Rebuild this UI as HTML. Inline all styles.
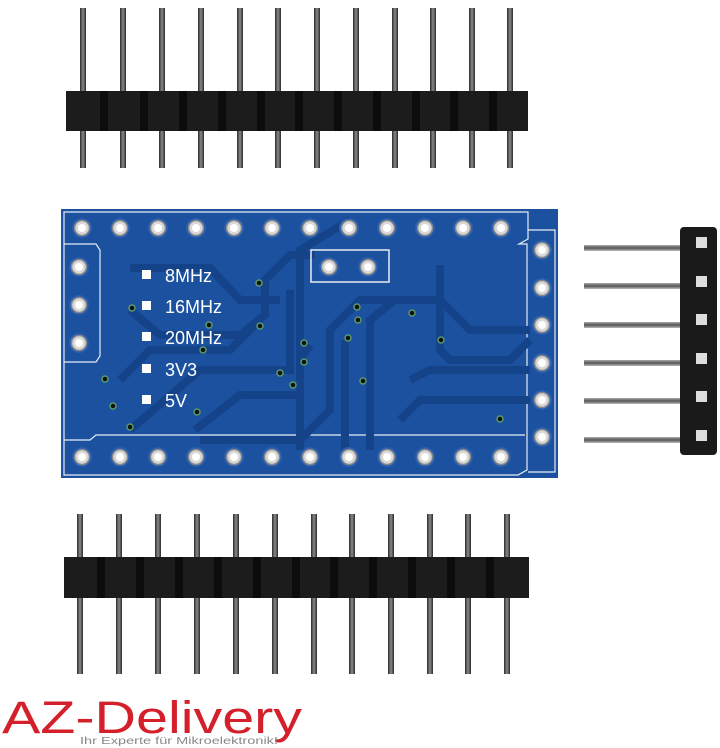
<!DOCTYPE html>
<html><head><meta charset="utf-8"><style>
html,body{margin:0;padding:0;background:#fff;width:720px;height:748px;overflow:hidden}
</style></head><body>
<svg width="720" height="748" viewBox="0 0 720 748" xmlns="http://www.w3.org/2000/svg">
<defs>
<linearGradient id="pg" x1="0" x2="1"><stop offset="0" stop-color="#2a2a2a"/><stop offset="0.5" stop-color="#8a8a8a"/><stop offset="1" stop-color="#2a2a2a"/></linearGradient>
<linearGradient id="pgh" x1="0" y1="0" x2="0" y2="1"><stop offset="0" stop-color="#aaa"/><stop offset="0.5" stop-color="#555"/><stop offset="1" stop-color="#bbb"/></linearGradient>
<g id="pin"><rect x="-3" y="0" width="6" height="160" fill="url(#pg)"/></g>
<g id="hole"><circle r="10" fill="#2a5fb0"/><circle r="7.5" fill="#d8d8d8" stroke="#888" stroke-width="1.5"/><circle r="4" fill="#fff"/></g>
<g id="hpin"><rect x="0" y="-3" width="100" height="6" fill="url(#pgh)"/></g>
</defs>

<g transform="translate(0,8)">
<use href="#pin" x="83"/><use href="#pin" x="123"/><use href="#pin" x="162"/><use href="#pin" x="201"/><use href="#pin" x="240"/><use href="#pin" x="278"/><use href="#pin" x="317"/><use href="#pin" x="356"/><use href="#pin" x="395"/><use href="#pin" x="433"/><use href="#pin" x="472"/><use href="#pin" x="510"/>
</g>
<rect x="66" y="91" width="462" height="40" fill="#1c1c1c"/>
<g fill="#0c0c0c"><rect x="100" y="91" width="8" height="40"/><rect x="140" y="91" width="8" height="40"/><rect x="179" y="91" width="8" height="40"/><rect x="218" y="91" width="8" height="40"/><rect x="257" y="91" width="8" height="40"/><rect x="295" y="91" width="8" height="40"/><rect x="334" y="91" width="8" height="40"/><rect x="373" y="91" width="8" height="40"/><rect x="412" y="91" width="8" height="40"/><rect x="450" y="91" width="8" height="40"/><rect x="489" y="91" width="8" height="40"/></g>

<g transform="translate(0,514)">
<use href="#pin" x="80"/><use href="#pin" x="119"/><use href="#pin" x="158"/><use href="#pin" x="197"/><use href="#pin" x="236"/><use href="#pin" x="275"/><use href="#pin" x="314"/><use href="#pin" x="352"/><use href="#pin" x="391"/><use href="#pin" x="430"/><use href="#pin" x="468"/><use href="#pin" x="507"/>
</g>
<rect x="64" y="557" width="465" height="41" fill="#1c1c1c"/>
<g fill="#0c0c0c"><rect x="97" y="557" width="8" height="41"/><rect x="136" y="557" width="8" height="41"/><rect x="175" y="557" width="8" height="41"/><rect x="214" y="557" width="8" height="41"/><rect x="253" y="557" width="8" height="41"/><rect x="292" y="557" width="8" height="41"/><rect x="330" y="557" width="8" height="41"/><rect x="369" y="557" width="8" height="41"/><rect x="408" y="557" width="8" height="41"/><rect x="447" y="557" width="8" height="41"/><rect x="486" y="557" width="8" height="41"/></g>

<use href="#hpin" x="584" y="248"/><use href="#hpin" x="584" y="286"/><use href="#hpin" x="584" y="325"/><use href="#hpin" x="584" y="363"/><use href="#hpin" x="584" y="401"/><use href="#hpin" x="584" y="440"/>
<rect x="680" y="227" width="37" height="228" rx="4" fill="#1a1a1a"/>
<g fill="#ddd"><rect x="696" y="237" width="11" height="11"/><rect x="696" y="276" width="11" height="11"/><rect x="696" y="314" width="11" height="11"/><rect x="696" y="353" width="11" height="11"/><rect x="696" y="391" width="11" height="11"/><rect x="696" y="430" width="11" height="11"/></g>

<!-- board -->
<rect x="61" y="209" width="497" height="269" fill="#1b519f"/>
<g fill="none" stroke="#e6ecf4" stroke-width="1.2">
<path d="M64 212 H528 V239 L519 244 H527 V470 L518 475 H64 Z"/>
<path d="M64 244 H96 L100 250 V356 L96 362 H64"/>
<path d="M64 440 H90 L96 435 H525"/>
<path d="M528 230 H555 V472 H528"/>
</g>
<g fill="none" stroke="#14438a" stroke-width="8">
<path d="M130 268 H210 L240 300 H280"/>
<path d="M130 310 L160 335 H240 L265 315 V280 L290 255 H315"/>
<path d="M120 380 L150 350 H230 L260 320"/>
<path d="M130 430 L200 370 H290 V290"/>
<path d="M195 430 L240 395 H300 V250 L350 220"/>
<path d="M200 440 H300 L330 410 V330 L360 300 H440 L470 330 H530"/>
<path d="M300 450 V360 L310 345"/>
<path d="M345 450 V340"/>
<path d="M370 450 V320 L395 300"/>
<path d="M400 420 L420 400 H530"/>
<path d="M410 380 L430 370 H530"/>
<path d="M440 265 V350 L450 360 H510 L530 340"/>
</g>
<rect x="311" y="250" width="78" height="32" fill="none" stroke="#e8edf3" stroke-width="1.5"/>
<g>
<use href="#hole" x="82" y="228"/><use href="#hole" x="120" y="228"/><use href="#hole" x="158" y="228"/><use href="#hole" x="196" y="228"/><use href="#hole" x="234" y="228"/><use href="#hole" x="272" y="228"/><use href="#hole" x="310" y="228"/><use href="#hole" x="349" y="228"/><use href="#hole" x="387" y="228"/><use href="#hole" x="425" y="228"/><use href="#hole" x="463" y="228"/><use href="#hole" x="501" y="228"/>
<use href="#hole" x="82" y="457"/><use href="#hole" x="120" y="457"/><use href="#hole" x="158" y="457"/><use href="#hole" x="196" y="457"/><use href="#hole" x="234" y="457"/><use href="#hole" x="272" y="457"/><use href="#hole" x="310" y="457"/><use href="#hole" x="349" y="457"/><use href="#hole" x="387" y="457"/><use href="#hole" x="425" y="457"/><use href="#hole" x="463" y="457"/><use href="#hole" x="501" y="457"/>
<use href="#hole" x="79" y="267"/><use href="#hole" x="79" y="305"/><use href="#hole" x="79" y="343"/>
<use href="#hole" x="542" y="250"/><use href="#hole" x="542" y="288"/><use href="#hole" x="542" y="325"/><use href="#hole" x="542" y="363"/><use href="#hole" x="542" y="400"/><use href="#hole" x="542" y="437"/>
<use href="#hole" x="329" y="267"/><use href="#hole" x="368" y="267"/>
</g>
<g fill="#111" stroke="#5a9a6a" stroke-width="1.5">
<circle cx="132" cy="308" r="3"/><circle cx="259" cy="283" r="3"/><circle cx="209" cy="325" r="3"/><circle cx="260" cy="326" r="3"/><circle cx="203" cy="350" r="3"/><circle cx="105" cy="379" r="3"/><circle cx="113" cy="406" r="3"/><circle cx="197" cy="412" r="3"/><circle cx="130" cy="427" r="3"/><circle cx="280" cy="373" r="3"/><circle cx="293" cy="385" r="3"/><circle cx="304" cy="343" r="3"/><circle cx="304" cy="362" r="3"/><circle cx="348" cy="338" r="3"/><circle cx="358" cy="320" r="3"/><circle cx="357" cy="307" r="3"/><circle cx="363" cy="381" r="3"/><circle cx="412" cy="313" r="3"/><circle cx="441" cy="340" r="3"/><circle cx="500" cy="419" r="3"/>
</g>
<g fill="#fff">
<rect x="142" y="270" width="9" height="9"/><rect x="142" y="301" width="9" height="9"/><rect x="142" y="332" width="9" height="9"/><rect x="142" y="364" width="9" height="9"/><rect x="142" y="395" width="9" height="9"/>
</g>
<g fill="#fff" font-family="Liberation Sans, sans-serif" font-size="18">
<text x="165" y="282">8MHz</text><text x="165" y="313">16MHz</text><text x="165" y="344">20MHz</text><text x="165" y="376">3V3</text><text x="165" y="407">5V</text>
</g>

<text x="2" y="733" font-family="Liberation Sans, sans-serif" font-size="45" fill="#d3202a" textLength="300" lengthAdjust="spacingAndGlyphs">AZ-Delivery</text>
<text x="80" y="744" font-family="Liberation Sans, sans-serif" font-size="10" fill="#888" textLength="198" lengthAdjust="spacingAndGlyphs">Ihr Experte für Mikroelektronik!</text>
</svg>
</body></html>
